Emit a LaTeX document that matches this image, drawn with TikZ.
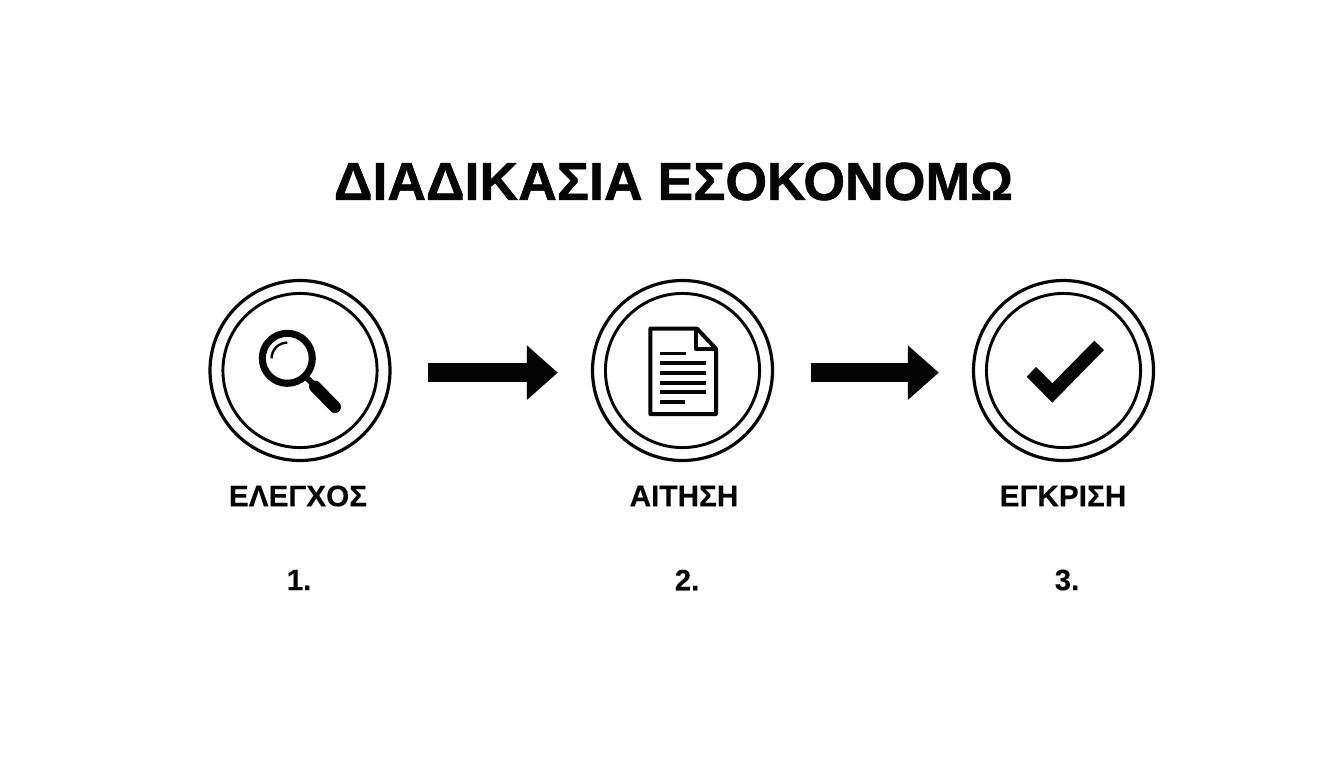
\documentclass[tikz,border=0pt]{standalone}
\usepackage{fontspec}
\setmainfont{Liberation Sans}
\newfontfamily\titlefont[BoldFeatures={FakeBold=1.0}]{Liberation Sans}
\newfontfamily\labelfont[BoldFeatures={FakeBold=0.25}]{Liberation Sans}
\usetikzlibrary{arrows.meta}
\definecolor{ink}{HTML}{050505}
\definecolor{paper}{HTML}{FEFEFE}
\tikzset{
  x=0.75pt,y=-0.75pt,
  outerring/.style={circle,draw=ink,line width=2.4pt,minimum size=135pt,inner sep=0pt,outer sep=0pt},
  innerring/.style={circle,draw=ink,line width=2.2pt,minimum size=115.6pt,inner sep=0pt,outer sep=0pt},
  blockarrow/.style={draw=ink,line width=14.5pt,-{Triangle[length=23.25pt,width=39.5pt,fill=ink]},shorten <=28.5pt,shorten >=26pt},
  titletext/.style={font=\titlefont\bfseries\fontsize{40.2pt}{46pt}\selectfont,text=ink,inner sep=0pt},
  steptext/.style={font=\labelfont\bfseries\fontsize{22.3pt}{26pt}\selectfont,text=ink,inner sep=0pt},
  numtext/.style={font=\labelfont\bfseries\fontsize{22pt}{26pt}\selectfont,text=ink,inner sep=0pt},
  iconline/.style={draw=ink,line width=2.8pt},
  iconframe/.style={draw=ink,line width=3pt,line join=round},
}
\begin{document}
\begin{tikzpicture}
\useasboundingbox[fill=paper] (0,0) rectangle (1344,768);
\node[titletext] (title) at (673.5,181.5) {ΔΙΑΔΙΚΑΣΙΑ ΕΣΟΚΟΝΟΜΩ};
% rings
\node[outerring] (c1) at (300,370.5) {};
\node[innerring] (i1) at (300,370.5) {};
\node[outerring] (c2) at (682.5,370.5) {};
\node[innerring] (i2) at (682.5,370.5) {};
\node[outerring] (c3) at (1063.5,370.5) {};
\node[innerring] (i3) at (1063.5,370.5) {};
% connectors
\draw[blockarrow] ([yshift=-1.6pt]c1.east) -- ([yshift=-1.6pt]c2.west);
\draw[blockarrow] ([yshift=-1.6pt]c2.east) -- ([yshift=-1.6pt]c3.west);
% magnifier
\draw[draw=ink,line width=5.3pt] (287.3,358.3) circle[radius=25];
\draw[draw=ink,line width=1.8pt] (287.3,358.3) ++(180:15.7) arc[start angle=180,end angle=270,radius=15.7];
\draw[draw=ink,line width=4.5pt] (305,376) -- (316,387);
\draw[draw=ink,line width=9pt,line cap=round] (315,386.5) -- (335,407);
% document
\draw[iconframe] (650.3,328.7) -- (697,328.7) -- (716,348.7) -- (716,414) -- (650.3,414) -- cycle;
\draw[iconframe] (696,328.7) -- (696,348.7) -- (716,348.7);
\draw[iconline] (660,353.5) -- (686,353.5);
\draw[iconline] (660,363.3) -- (706,363.3);
\draw[iconline] (660,373) -- (706,373);
\draw[iconline] (660,382.7) -- (706,382.7);
\draw[iconline] (660,392.2) -- (706,392.2);
\draw[iconline] (660,401.7) -- (684.5,401.7);
% check
\fill[ink] (1026.7,376.7) -- (1036,367) -- (1052.3,383.3) -- (1094.3,340.7) -- (1104,350) -- (1052.3,402.7) -- cycle;
% labels
\node[steptext] (l1) at (298,496) {ΕΛΕΓΧΟΣ};
\node[steptext] (l2) at (684,496) {ΑΙΤΗΣΗ};
\node[steptext] (l3) at (1063,496) {ΕΓΚΡΙΣΗ};
\node[numtext] (n1) at (299,580) {1.};
\node[numtext] (n2) at (687,580) {2.};
\node[numtext] (n3) at (1067,580) {3.};
\end{tikzpicture}
\end{document}
